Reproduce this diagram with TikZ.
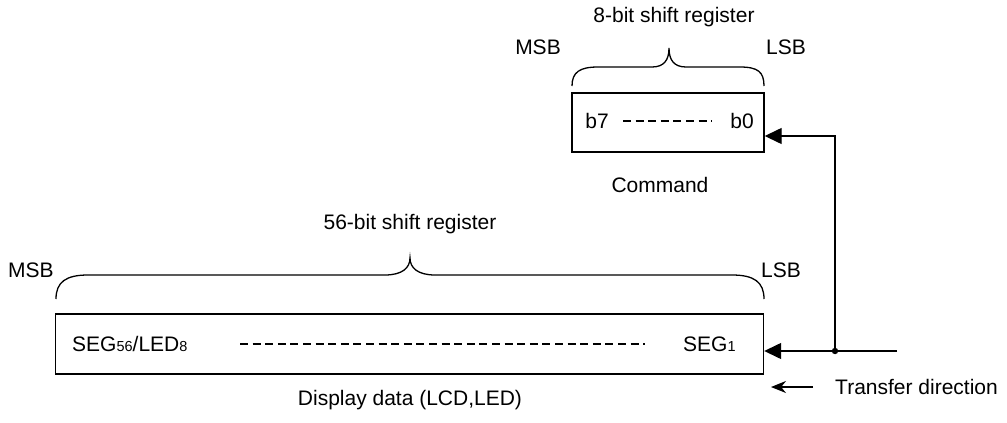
\documentclass[tikz,border=0pt]{standalone}
\usepackage{fontspec}
\setmainfont{Liberation Sans}
\usetikzlibrary{arrows.meta}
\begin{document}
\begin{tikzpicture}[x=1pt,y=-1pt,
  lbl/.style={inner sep=0pt,font=\fontsize{21}{25}\selectfont},
  regbox/.style={draw,line width=1.4pt,inner sep=0pt},
  wire/.style={line width=1.4pt},
  feed/.style={wire,-{Triangle[length=17pt,width=16pt]}},
  brc/.style={line width=1.3pt},
  dots/.style={line width=1.2pt,dash pattern=on 8pt off 4.6pt}]
\newcommand{\sbs}[1]{\raisebox{-0.5pt}{\fontsize{14.5}{16}\selectfont #1}}
\useasboundingbox (0,0) rectangle (1007,423);
% boxes
\node[regbox,minimum width=192pt,minimum height=59pt] (small) at (668,122.5) {};
\node[regbox,minimum width=708pt,minimum height=60pt] (big) at (409.5,344) {};
% labels
\node[lbl] (t8) at (674,17) {8-bit shift register};
\node[lbl] (msb1) at (538,47) {MSB};
\node[lbl] (lsb1) at (786,47) {LSB};
\node[lbl] (b7) at (597,121) {b7};
\node[lbl] (b0) at (742,121) {b0};
\node[lbl] (cmd) at (660,185) {Command};
\node[lbl] (t56) at (410,224) {56-bit shift register};
\node[lbl] (msb2) at (31,270) {MSB};
\node[lbl] (lsb2) at (781,270) {LSB};
\node[lbl,anchor=west] (segn) at (72,344) {SEG\sbs{56}/LED\sbs{8}};
\node[lbl,anchor=west] (seg1) at (683,344) {SEG\sbs{1}};
\node[lbl] (disp) at (410,400) {Display data (LCD,LED)};
\node[lbl,anchor=west] (tdir) at (835,387) {Transfer direction};
% dashes inside boxes
\draw[dots] (623,121) -- (712,121);
\draw[dots] (240,344) -- (645,344);
% braces
\draw[brc] (572,86) .. controls (572,72) and (580,67) .. (598,67) -- (652,67)
  .. controls (664,67) and (669,60) .. (669,48)
  .. controls (669,60) and (674,67) .. (686,67) -- (740,67)
  .. controls (758,67) and (764,72) .. (764,86);
\draw[brc] (56,299) .. controls (56,282) and (66,275) .. (88,275) -- (385,275)
  .. controls (402,275) and (410,268) .. (410,258)
  .. controls (410,268) and (418,275) .. (435,275) -- (732,275)
  .. controls (754,275) and (764,282) .. (764,299);
% connectors
\coordinate (in) at (897,351);
\coordinate (j) at (835,351);
\coordinate (c) at (835,136);
\draw[wire] (in) -- (j);
\draw[feed] (j) -- (j -| big.east);
\draw[feed] (j) -- (c) -- (c -| small.east);
\fill (j) circle (3.2pt);
\coordinate (ta) at (813,387);
\coordinate (tb) at (771,387);
\draw[line width=1.3pt,-{Stealth[length=15pt,width=12pt]}] (ta) -- (tb);
\end{tikzpicture}
\end{document}
